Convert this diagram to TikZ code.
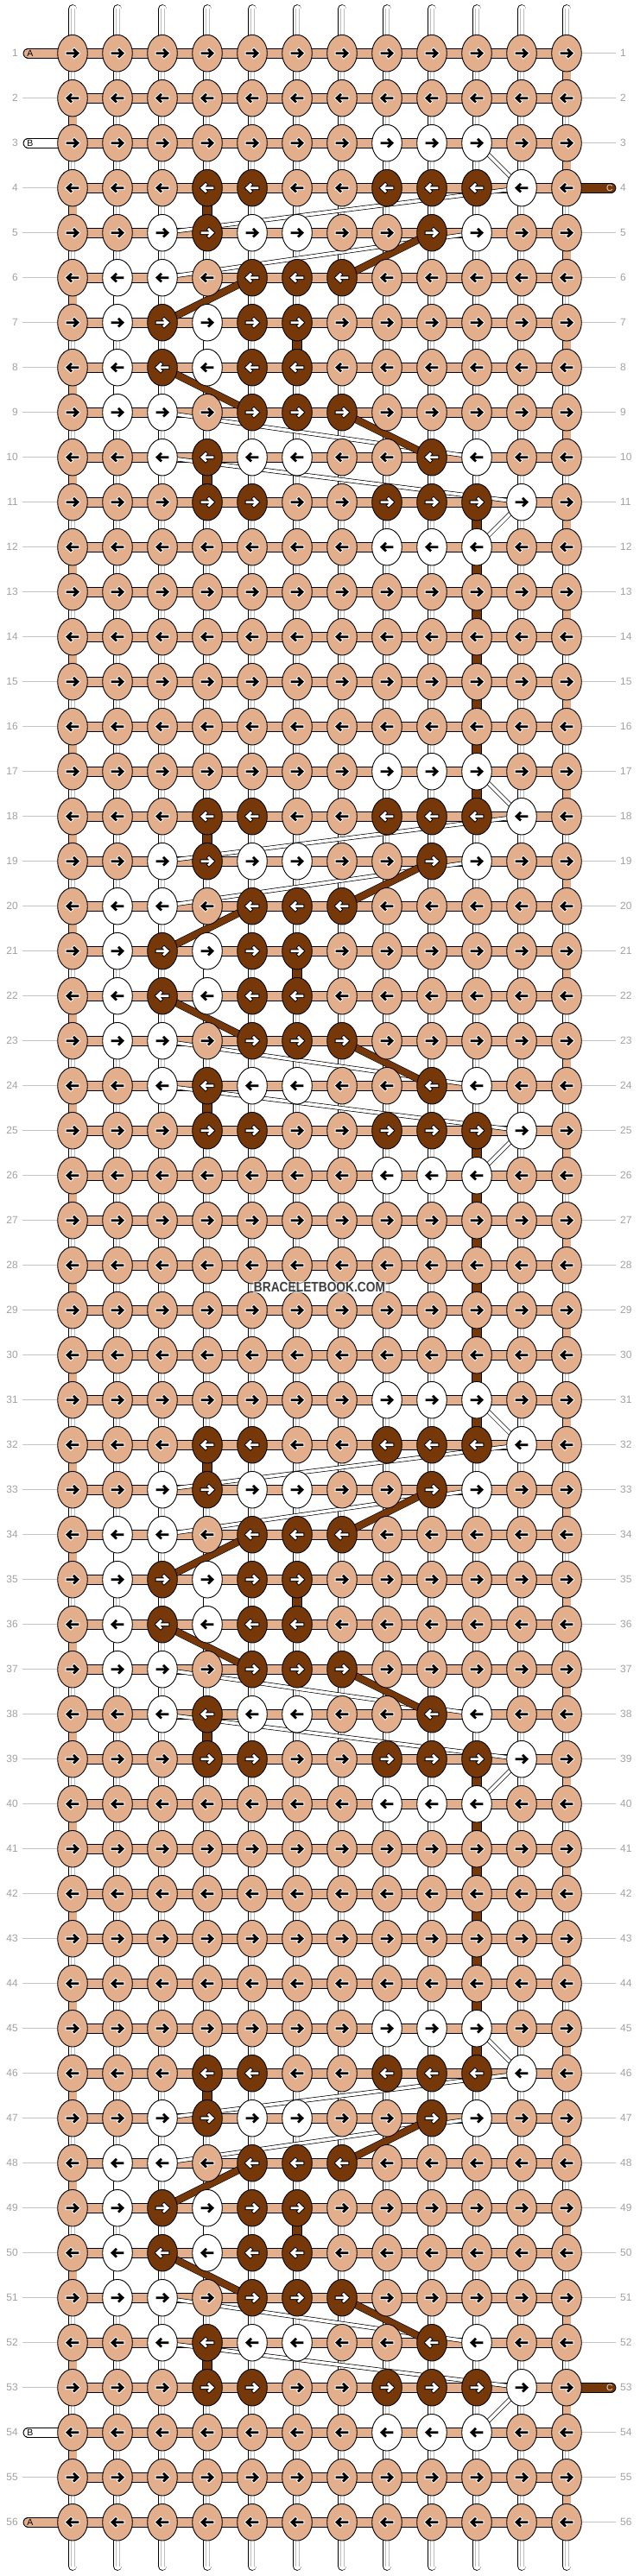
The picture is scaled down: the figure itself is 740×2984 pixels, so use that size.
\documentclass[tikz,border=0pt]{standalone}
\usepackage{fontspec}
\setmainfont{Liberation Sans}
\usepackage{tikz}
\usetikzlibrary{shapes.geometric}

\definecolor{knotsalmon}{HTML}{E2AE8C}
\definecolor{knotbrown}{HTML}{763808}
\definecolor{labelgray}{HTML}{A0A0A0}
\definecolor{linegray}{HTML}{C4C4C4}
\definecolor{coregray}{HTML}{BDBDBD}
\definecolor{markgray}{HTML}{3E3E3E}

\colorlet{kfill-s}{knotsalmon}
\colorlet{kfill-w}{white}
\colorlet{kfill-c}{knotbrown}
\colorlet{kline-s}{white}
\colorlet{kline-w}{white}
\colorlet{kline-c}{black}
\colorlet{karrow-s}{black}
\colorlet{karrow-w}{black}
\colorlet{karrow-c}{white}

% knot colours of a row: s = salmon (A), w = white (B), c = brown (C)
\def\rowP{s,s,s,s,s,s,s,s,s,s,s,s}
\def\rowW{s,s,s,s,s,s,s,w,w,w,s,s}
\def\rowA{s,s,s,c,c,s,s,c,c,c,w,s}
\def\rowB{s,s,w,c,w,w,s,s,c,w,s,s}
\def\rowC{s,w,w,s,c,c,c,s,s,s,s,s}
\def\rowD{s,w,c,w,c,c,s,s,s,s,s,s}

\tikzset{
  knot/.style={ellipse,draw=black,line width=0.9pt,minimum width=34.6pt,minimum height=42.6pt,inner sep=0pt},
  warp/.style={line width=0.85pt,double=white,double distance=9pt,line cap=round},
  warp core/.style={coregray,line width=0.5pt},
  salmon bar/.style={line width=0.9pt,double=knotsalmon,double distance=10pt},
  white bar/.style={line width=0.9pt,double=white,double distance=10pt},
  brown bar/.style={line width=0.9pt,double=knotbrown,double distance=10pt},
  salmon turn/.style={line width=0.85pt,double=knotsalmon,double distance=9pt},
  brown turn/.style={line width=0.85pt,double=knotbrown,double distance=9.5pt},
  white turn/.style={line width=0.85pt,double=white,double distance=9pt},
  white carry/.style={line width=0.7pt,double=white,double distance=3.6pt},
  brown carry/.style={line width=0.6pt,double=knotbrown,double distance=7.5pt},
  tail/.style={line cap=round},
  row label/.style={text=labelgray,font=\fontsize{12}{14}\selectfont,inner sep=0pt},
  tail label/.style={font=\fontsize{10.5}{12}\selectfont,inner sep=0pt},
  guide/.style={linegray,line width=0.8pt}
}

\begin{document}
\begin{tikzpicture}[x=1pt,y=-1pt]
\useasboundingbox (0,0) rectangle (740,2984);

% grid points
\foreach \r in {1,...,56}
  \foreach \c in {1,...,12}
    \coordinate (p-\r-\c) at ({84+52*(\c-1)},{61.7+52*(\r-1)});

% warp threads
\foreach \c in {1,...,12}{
  \coordinate (top-\c) at ({84+52*(\c-1)},10.5);
  \coordinate (bot-\c) at ({84+52*(\c-1)},2972.5);
  \draw[warp] (top-\c) -- (bot-\c);
  \draw[warp core] ([xshift=-2pt]top-\c) -- ([xshift=-2pt]bot-\c);
  \draw[warp core] ([xshift=2pt]top-\c) -- ([xshift=2pt]bot-\c);
}

% A turns at the edges
\foreach \r [evaluate=\r as \rr using int(\r+1)] in {1,3,...,55}
  \draw[salmon turn] (p-\r-12) -- (p-\rr-12);
\foreach \r [evaluate=\r as \rr using int(\r+1)] in {2,4,...,54}
  \draw[salmon turn] (p-\r-1) -- (p-\rr-1);

% straight drops of B and C
\foreach \o in {0,14,28,42}{
  \foreach \ra/\rb/\c in {1/2/4,4/5/6,7/8/4}{
    \pgfmathtruncatemacro\ya{3+\o+\ra}
    \pgfmathtruncatemacro\yb{3+\o+\rb}
    \draw[brown turn] (p-\ya-\c) -- (p-\yb-\c);
  }
  \foreach \ra/\rb/\c in {3/4/2,4/5/4,5/6/2}{
    \pgfmathtruncatemacro\ya{3+\o+\ra}
    \pgfmathtruncatemacro\yb{3+\o+\rb}
    \draw[white turn] (p-\ya-\c) -- (p-\yb-\c);
  }
}
\foreach \ra/\rb in {11/18,25/32,39/46}
  \draw[brown turn] (p-\ra-10) -- (p-\rb-10);

% rows
\foreach \r in {1,...,56}
  \draw[salmon bar] (p-\r-1) -- (p-\r-12);

% carried threads
\foreach \o in {0,14,28,42}{
  \foreach \ra/\ca/\rb/\cb in {0/10/1/11,1/11/2/3,2/10/3/3,6/3/7/10,7/3/8/11,8/11/9/10}{
    \pgfmathtruncatemacro\ya{3+\o+\ra}
    \pgfmathtruncatemacro\yb{3+\o+\rb}
    \draw[white carry] (p-\ya-\ca) -- (p-\yb-\cb);
  }
  \foreach \ra/\ca/\rb/\cb in {2/9/3/7,3/5/4/3,5/3/6/5,6/7/7/9}{
    \pgfmathtruncatemacro\ya{3+\o+\ra}
    \pgfmathtruncatemacro\yb{3+\o+\rb}
    \draw[brown carry] (p-\ya-\ca) -- (p-\yb-\cb);
  }
}

% thread ends
\coordinate (end-A-in) at (32.5,61.7);
\coordinate (end-B-in) at (32.5,165.7);
\coordinate (end-C-in) at (707.5,217.7);
\coordinate (end-C-out) at (707.5,2765.7);
\coordinate (end-B-out) at (32.5,2817.7);
\coordinate (end-A-out) at (32.5,2921.7);
\draw[salmon bar,tail] (end-A-in) -- (p-1-1);
\draw[white bar,tail] (end-B-in) -- (p-3-1);
\draw[brown bar,tail] (end-C-in) -- (p-4-12);
\draw[brown bar,tail] (end-C-out) -- (p-53-12);
\draw[white bar,tail] (end-B-out) -- (p-54-1);
\draw[salmon bar,tail] (end-A-out) -- (p-56-1);
\node[tail label] (tag-A-in) at (35,61.7) {A};
\node[tail label] (tag-B-in) at (35,165.7) {B};
\node[tail label,text=white!88!black] (tag-C-in) at (706,217.7) {C};
\node[tail label,text=white!88!black] (tag-C-out) at (706,2765.7) {C};
\node[tail label] (tag-B-out) at (35,2817.7) {B};
\node[tail label] (tag-A-out) at (35,2921.7) {A};

% knots
\foreach \r/\t in {1/P,2/P,3/W,4/A,5/B,6/C,7/D,8/D,9/C,10/B,11/A,12/W,13/P,14/P,
    15/P,16/P,17/W,18/A,19/B,20/C,21/D,22/D,23/C,24/B,25/A,26/W,27/P,28/P,
    29/P,30/P,31/W,32/A,33/B,34/C,35/D,36/D,37/C,38/B,39/A,40/W,41/P,42/P,
    43/P,44/P,45/W,46/A,47/B,48/C,49/D,50/D,51/C,52/B,53/A,54/W,55/P,56/P}{
  \expandafter\let\expandafter\knotrow\csname row\t\endcsname
  \pgfmathtruncatemacro\d{ifthenelse(mod(\r,2)==1,1,-1)}
  \foreach \k [count=\c] in \knotrow{
    \node[knot,fill=kfill-\k] (k-\r-\c) at (p-\r-\c) {};
    \draw[shift={(p-\r-\c)},xscale=\d,kline-\k,line width=4.6pt,line cap=rect]
      (-6,0) -- (5.5,0) (2,-3.8) -- (6,0) -- (2,3.8);
    \draw[shift={(p-\r-\c)},xscale=\d,karrow-\k,line width=2.8pt,line cap=rect]
      (-6,0) -- (5.5,0) (2,-3.8) -- (6,0) -- (2,3.8);
  }
}

% row numbers
\foreach \r in {1,...,56}{
  \node[row label,anchor=east] (num-l-\r) at (21,{61.7+52*(\r-1)}) {\r};
  \node[row label,anchor=west] (num-r-\r) at (718,{61.7+52*(\r-1)}) {\r};
  \ifnum\r=1 \else\ifnum\r=3 \else\ifnum\r=54 \else\ifnum\r=56 \else
    \draw[guide] ([xshift=5pt]num-l-\r.east) -- (k-\r-1.west);
  \fi\fi\fi\fi
  \ifnum\r=4 \else\ifnum\r=53 \else
    \draw[guide] (k-\r-12.east) -- ([xshift=-5pt]num-r-\r.west);
  \fi\fi
}

\node[fill=white,fill opacity=0.55,text opacity=1,text=markgray,inner sep=1.5pt,
  font=\bfseries\fontsize{16}{18}\selectfont,xscale=0.86] (mark) at (370,1491) {BRACELETBOOK.COM};

\end{tikzpicture}
\end{document}
